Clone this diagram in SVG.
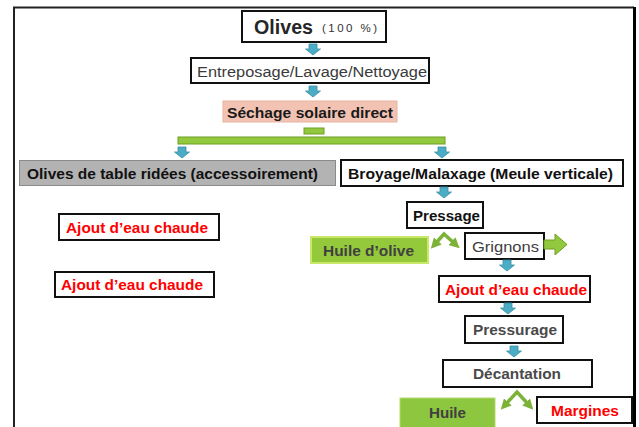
<svg xmlns="http://www.w3.org/2000/svg" width="639" height="427" viewBox="0 0 639 427">
<style>
text{font-family:"Liberation Sans",Arial,sans-serif;text-anchor:middle;dominant-baseline:central;font-size:15.5px}
.box{fill:#fff;stroke:#111;stroke-width:2}
.b{font-weight:bold}
.red{fill:#ff0000;font-weight:bold}
.teal{fill:#4bacc6;stroke:#3a8ea3;stroke-width:0.8}
.gr{fill:#92c83e;stroke:#6e9e22;stroke-width:1}
.chev{fill:none;stroke:#7cb236;stroke-width:3.5;stroke-linejoin:miter}
</style>
<defs>
<path id="ta" d="M-4,0 H4 V5 H7.5 L0,11 L-7.5,5 H-4 Z"/>
<marker id="ah" viewBox="0 0 10 10" refX="4" refY="5" markerWidth="3" markerHeight="3" orient="auto-start-reverse" markerUnits="strokeWidth">
<path d="M0,0 L10,5 L0,10 Z" fill="#7cb236"/>
</marker>
</defs>
<rect width="639" height="427" fill="#fff"/>
<g id="frame">
<path d="M14,427 V7.5 H634" fill="none" stroke="#222" stroke-width="2"/>
<path d="M634.5,7 V427" fill="none" stroke="#000" stroke-width="3"/>
</g>
<g id="n-olives">
<rect class="box" x="242" y="11" width="144" height="31"/>
<text x="283.5" y="27" class="b" style="font-size:19.5px" fill="#262626" textLength="59" lengthAdjust="spacingAndGlyphs">Olives</text>
<text x="349.5" y="28" style="font-size:11.5px" fill="#333" textLength="55" lengthAdjust="spacing">(100 %)</text>
</g>
<g id="n-entreposage">
<rect class="box" x="191" y="58" width="238" height="25"/>
<text x="312" y="71" fill="#3a3a3a" textLength="230" lengthAdjust="spacingAndGlyphs">Entreposage/Lavage/Nettoyage</text>
</g>
<g id="n-sechage">
<rect x="223" y="101" width="174" height="21" fill="#f2c3b3" stroke="#eab3a0" stroke-width="1"/>
<text x="310" y="112" class="b" fill="#1a1a1a" textLength="166" lengthAdjust="spacingAndGlyphs">Séchage solaire direct</text>
</g>
<g id="n-olivestable">
<rect x="19.5" y="160.5" width="316" height="25" fill="#b3b3b3" stroke="#8a8a8a" stroke-width="1"/>
<text x="172.5" y="173" class="b" fill="#111" textLength="291" lengthAdjust="spacingAndGlyphs">Olives de table ridées (accessoirement)</text>
</g>
<g id="n-broyage">
<rect class="box" x="341" y="160" width="282" height="26"/>
<text x="480.5" y="173" class="b" fill="#111" textLength="265" lengthAdjust="spacingAndGlyphs">Broyage/Malaxage (Meule verticale)</text>
</g>
<g id="n-pressage">
<rect class="box" x="407" y="202" width="76" height="26"/>
<text x="446.5" y="215" class="b" fill="#111" textLength="67" lengthAdjust="spacingAndGlyphs">Pressage</text>
</g>
<g id="n-huileolive">
<rect x="311" y="237" width="117" height="26" fill="#94c93c" stroke="#c9e86a" stroke-width="2"/>
<text x="368.5" y="250" class="b" fill="#404040" textLength="91" lengthAdjust="spacingAndGlyphs">Huile d’olive</text>
</g>
<g id="n-grignons">
<rect class="box" x="465" y="233" width="79" height="26"/>
<text x="505.5" y="246" fill="#404040" textLength="67" lengthAdjust="spacingAndGlyphs">Grignons</text>
</g>
<g id="n-ajout-left1">
<rect class="box" x="59" y="214" width="160" height="26"/>
<text x="137" y="227" class="red" textLength="142" lengthAdjust="spacingAndGlyphs">Ajout d’eau chaude</text>
</g>
<g id="n-ajout-left2">
<rect class="box" x="55" y="272" width="159" height="25"/>
<text x="132" y="284.5" class="red" textLength="142" lengthAdjust="spacingAndGlyphs">Ajout d’eau chaude</text>
</g>
<g id="n-ajout-right">
<rect class="box" x="439" y="276" width="151" height="26"/>
<text x="516" y="289" class="red" textLength="142" lengthAdjust="spacingAndGlyphs">Ajout d’eau chaude</text>
</g>
<g id="n-pressurage">
<rect class="box" x="465" y="316" width="98" height="27"/>
<text x="515" y="329.5" class="b" fill="#4a4a4a" textLength="84" lengthAdjust="spacingAndGlyphs">Pressurage</text>
</g>
<g id="n-decantation">
<rect class="box" x="443" y="360" width="149" height="27"/>
<text x="517" y="373.5" class="b" fill="#4a4a4a" textLength="88" lengthAdjust="spacingAndGlyphs">Décantation</text>
</g>
<g id="n-huile">
<rect x="400" y="398" width="95" height="32" fill="#8dc63f" stroke="#b5d96e" stroke-width="1"/>
<text x="447.5" y="412" class="b" fill="#404040" textLength="37" lengthAdjust="spacingAndGlyphs">Huile</text>
</g>
<g id="n-margines">
<rect class="box" x="537" y="397" width="95" height="26"/>
<text x="585" y="410" class="red" textLength="68" lengthAdjust="spacingAndGlyphs">Margines</text>
</g>
<g id="connectors">
<use href="#ta" class="teal" x="313" y="44"/>
<use href="#ta" class="teal" x="313" y="86"/>
<rect x="304" y="128" width="20" height="6" class="gr"/>
<rect x="178" y="137" width="267" height="7" class="gr"/>
<use href="#ta" class="teal" x="182" y="147"/>
<use href="#ta" class="teal" x="442" y="147"/>
<use href="#ta" class="teal" x="444" y="187"/>
<polyline class="chev" points="435,244 444,234 455,244" marker-start="url(#ah)" marker-end="url(#ah)"/>
<polygon class="gr" points="544,240 555,240 555,234 567,244.5 555,255 555,249 544,249"/>
<use href="#ta" class="teal" x="507" y="260"/>
<use href="#ta" class="teal" x="508" y="303"/>
<use href="#ta" class="teal" x="514" y="346"/>
<polyline class="chev" points="505,405 517,392 529,405" marker-start="url(#ah)" marker-end="url(#ah)"/>
</g>
</svg>
